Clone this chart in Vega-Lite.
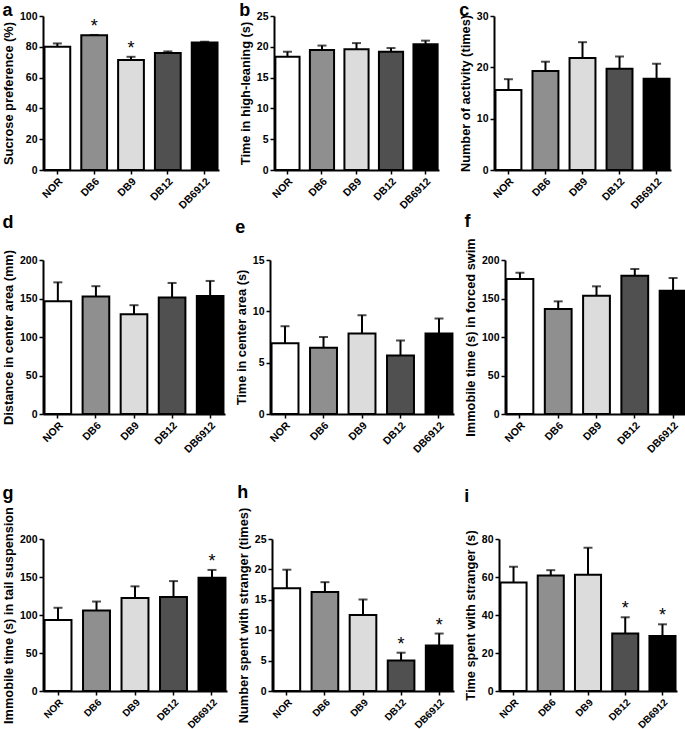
{
  "$schema": "https://vega.github.io/schema/vega-lite/v6.json",
  "padding": {"left": 2, "top": 2, "right": 2, "bottom": 0},
  "background": "white",
  "datasets": {
    "a": [
      {"group": "NOR", "mean": 80.0, "upper": 82.2, "sig": false},
      {"group": "DB6", "mean": 87.5, "upper": 87.7, "sig": true},
      {"group": "DB9", "mean": 71.4, "upper": 73.5, "sig": true},
      {"group": "DB12", "mean": 75.9, "upper": 77.0, "sig": false},
      {"group": "DB6912", "mean": 82.8, "upper": 83.3, "sig": false}
    ],
    "b": [
      {"group": "NOR", "mean": 18.4, "upper": 19.2, "sig": false},
      {"group": "DB6", "mean": 19.5, "upper": 20.2, "sig": false},
      {"group": "DB9", "mean": 19.6, "upper": 20.6, "sig": false},
      {"group": "DB12", "mean": 19.2, "upper": 19.8, "sig": false},
      {"group": "DB6912", "mean": 20.4, "upper": 21.0, "sig": false}
    ],
    "c": [
      {"group": "NOR", "mean": 15.6, "upper": 17.7, "sig": false},
      {"group": "DB6", "mean": 19.3, "upper": 21.1, "sig": false},
      {"group": "DB9", "mean": 21.8, "upper": 24.9, "sig": false},
      {"group": "DB12", "mean": 19.7, "upper": 22.1, "sig": false},
      {"group": "DB6912", "mean": 17.8, "upper": 20.7, "sig": false}
    ],
    "d": [
      {"group": "NOR", "mean": 146.4, "upper": 171.0, "sig": false},
      {"group": "DB6", "mean": 152.5, "upper": 166.0, "sig": false},
      {"group": "DB9", "mean": 129.6, "upper": 141.3, "sig": false},
      {"group": "DB12", "mean": 151.2, "upper": 170.2, "sig": false},
      {"group": "DB6912", "mean": 153.4, "upper": 172.8, "sig": false}
    ],
    "e": [
      {"group": "NOR", "mean": 6.9, "upper": 8.55, "sig": false},
      {"group": "DB6", "mean": 6.45, "upper": 7.5, "sig": false},
      {"group": "DB9", "mean": 7.85, "upper": 9.62, "sig": false},
      {"group": "DB12", "mean": 5.7, "upper": 7.16, "sig": false},
      {"group": "DB6912", "mean": 7.85, "upper": 9.3, "sig": false}
    ],
    "f": [
      {"group": "NOR", "mean": 175.3, "upper": 183.5, "sig": false},
      {"group": "DB6", "mean": 136.4, "upper": 146.3, "sig": false},
      {"group": "DB9", "mean": 153.7, "upper": 165.8, "sig": false},
      {"group": "DB12", "mean": 179.7, "upper": 188.3, "sig": false},
      {"group": "DB6912", "mean": 160.2, "upper": 176.6, "sig": false}
    ],
    "g": [
      {"group": "NOR", "mean": 93.5, "upper": 109.5, "sig": false},
      {"group": "DB6", "mean": 106.0, "upper": 117.7, "sig": false},
      {"group": "DB9", "mean": 122.5, "upper": 137.7, "sig": false},
      {"group": "DB12", "mean": 123.8, "upper": 144.6, "sig": false},
      {"group": "DB6912", "mean": 148.9, "upper": 159.3, "sig": true}
    ],
    "h": [
      {"group": "NOR", "mean": 16.9, "upper": 19.95, "sig": false},
      {"group": "DB6", "mean": 16.3, "upper": 17.9, "sig": false},
      {"group": "DB9", "mean": 12.5, "upper": 15.05, "sig": false},
      {"group": "DB12", "mean": 5.0, "upper": 6.3, "sig": true},
      {"group": "DB6912", "mean": 7.5, "upper": 9.45, "sig": true}
    ],
    "i": [
      {"group": "NOR", "mean": 57.1, "upper": 65.4, "sig": false},
      {"group": "DB6", "mean": 60.8, "upper": 63.6, "sig": false},
      {"group": "DB9", "mean": 61.2, "upper": 75.4, "sig": false},
      {"group": "DB12", "mean": 30.2, "upper": 38.8, "sig": true},
      {"group": "DB6912", "mean": 29.0, "upper": 35.1, "sig": true}
    ]
  },
  "vconcat": [
    {
      "vconcat": [
        {
          "spacing": 20,
          "hconcat": [
            {
              "width": 176, "height": 154,
              "title": {"text": "a", "offset": -9},
              "data": {"name": "a"},
              "encoding": {
                "x": {"field": "group", "type": "nominal", "sort": ["NOR", "DB6", "DB9", "DB12", "DB6912"], "scale": {"paddingInner": 0.3, "paddingOuter": 0.04}, "axis": {"title": null, "labelAngle": -45}},
                "y": {"field": "mean", "type": "quantitative", "title": "Sucrose preference (%)", "scale": {"domain": [0, 100], "nice": false}, "axis": {"values": [0, 20, 40, 60, 80, 100]}}
              },
              "layer": [
                {"mark": {"type": "rule", "color": "black", "strokeWidth": 2}, "encoding": {"y2": {"field": "upper"}}},
                {"mark": {"type": "tick", "color": "black", "thickness": 2, "size": 9}, "encoding": {"y": {"field": "upper", "type": "quantitative", "title": "Sucrose preference (%)"}}},
                {"mark": {"type": "bar", "stroke": "black", "strokeWidth": 2}, "encoding": {"fill": {"field": "group", "type": "nominal", "scale": {"domain": ["NOR", "DB6", "DB9", "DB12", "DB6912"], "range": ["#ffffff", "#8f8f8f", "#dcdcdc", "#505050", "#000000"]}, "legend": null}}},
                {"transform": [{"filter": "datum.sig"}], "mark": {"type": "text", "text": "*", "fontSize": 18, "dy": -3, "baseline": "alphabetic", "color": "black"}, "encoding": {"y": {"field": "upper", "type": "quantitative", "title": "Sucrose preference (%)"}}}
              ]
            },
            {
              "width": 165, "height": 154,
              "title": {"text": "b", "offset": -9},
              "data": {"name": "b"},
              "encoding": {
                "x": {"field": "group", "type": "nominal", "sort": ["NOR", "DB6", "DB9", "DB12", "DB6912"], "scale": {"paddingInner": 0.3, "paddingOuter": 0.04}, "axis": {"title": null, "labelAngle": -45}},
                "y": {"field": "mean", "type": "quantitative", "title": "Time in high-leaning (s)", "scale": {"domain": [0, 25], "nice": false}, "axis": {"values": [0, 5, 10, 15, 20, 25]}}
              },
              "layer": [
                {"mark": {"type": "rule", "color": "black", "strokeWidth": 2}, "encoding": {"y2": {"field": "upper"}}},
                {"mark": {"type": "tick", "color": "black", "thickness": 2, "size": 9}, "encoding": {"y": {"field": "upper", "type": "quantitative", "title": "Time in high-leaning (s)"}}},
                {"mark": {"type": "bar", "stroke": "black", "strokeWidth": 2}, "encoding": {"fill": {"field": "group", "type": "nominal", "scale": {"domain": ["NOR", "DB6", "DB9", "DB12", "DB6912"], "range": ["#ffffff", "#8f8f8f", "#dcdcdc", "#505050", "#000000"]}, "legend": null}}}
              ]
            },
            {
              "width": 177, "height": 154,
              "title": {"text": "c", "offset": -9},
              "data": {"name": "c"},
              "encoding": {
                "x": {"field": "group", "type": "nominal", "sort": ["NOR", "DB6", "DB9", "DB12", "DB6912"], "scale": {"paddingInner": 0.3, "paddingOuter": 0.04}, "axis": {"title": null, "labelAngle": -45}},
                "y": {"field": "mean", "type": "quantitative", "title": "Number of activity (times)", "scale": {"domain": [0, 30], "nice": false}, "axis": {"values": [0, 10, 20, 30]}}
              },
              "layer": [
                {"mark": {"type": "rule", "color": "black", "strokeWidth": 2}, "encoding": {"y2": {"field": "upper"}}},
                {"mark": {"type": "tick", "color": "black", "thickness": 2, "size": 9}, "encoding": {"y": {"field": "upper", "type": "quantitative", "title": "Number of activity (times)"}}},
                {"mark": {"type": "bar", "stroke": "black", "strokeWidth": 2}, "encoding": {"fill": {"field": "group", "type": "nominal", "scale": {"domain": ["NOR", "DB6", "DB9", "DB12", "DB6912"], "range": ["#ffffff", "#8f8f8f", "#dcdcdc", "#505050", "#000000"]}, "legend": null}}}
              ]
            }
          ]
        },
        {
          "spacing": 10,
          "hconcat": [
            {
              "width": 182, "height": 154,
              "title": {"text": "d", "offset": 18},
              "data": {"name": "d"},
              "encoding": {
                "x": {"field": "group", "type": "nominal", "sort": ["NOR", "DB6", "DB9", "DB12", "DB6912"], "scale": {"paddingInner": 0.3, "paddingOuter": 0.04}, "axis": {"title": null, "labelAngle": -45}},
                "y": {"field": "mean", "type": "quantitative", "title": "Distance in center area (mm)", "scale": {"domain": [0, 200], "nice": false}, "axis": {"values": [0, 50, 100, 150, 200]}}
              },
              "layer": [
                {"mark": {"type": "rule", "color": "black", "strokeWidth": 2}, "encoding": {"y2": {"field": "upper"}}},
                {"mark": {"type": "tick", "color": "black", "thickness": 2, "size": 9}, "encoding": {"y": {"field": "upper", "type": "quantitative", "title": "Distance in center area (mm)"}}},
                {"mark": {"type": "bar", "stroke": "black", "strokeWidth": 2}, "encoding": {"fill": {"field": "group", "type": "nominal", "scale": {"domain": ["NOR", "DB6", "DB9", "DB12", "DB6912"], "range": ["#ffffff", "#8f8f8f", "#dcdcdc", "#505050", "#000000"]}, "legend": null}}}
              ]
            },
            {
              "width": 184, "height": 154,
              "title": {"text": "e", "offset": 18},
              "data": {"name": "e"},
              "encoding": {
                "x": {"field": "group", "type": "nominal", "sort": ["NOR", "DB6", "DB9", "DB12", "DB6912"], "scale": {"paddingInner": 0.3, "paddingOuter": 0.04}, "axis": {"title": null, "labelAngle": -45}},
                "y": {"field": "mean", "type": "quantitative", "title": "Time in center area (s)", "scale": {"domain": [0, 15], "nice": false}, "axis": {"values": [0, 5, 10, 15]}}
              },
              "layer": [
                {"mark": {"type": "rule", "color": "black", "strokeWidth": 2}, "encoding": {"y2": {"field": "upper"}}},
                {"mark": {"type": "tick", "color": "black", "thickness": 2, "size": 9}, "encoding": {"y": {"field": "upper", "type": "quantitative", "title": "Time in center area (s)"}}},
                {"mark": {"type": "bar", "stroke": "black", "strokeWidth": 2}, "encoding": {"fill": {"field": "group", "type": "nominal", "scale": {"domain": ["NOR", "DB6", "DB9", "DB12", "DB6912"], "range": ["#ffffff", "#8f8f8f", "#dcdcdc", "#505050", "#000000"]}, "legend": null}}}
              ]
            },
            {
              "width": 183, "height": 154,
              "title": {"text": "f", "offset": 7},
              "data": {"name": "f"},
              "encoding": {
                "x": {"field": "group", "type": "nominal", "sort": ["NOR", "DB6", "DB9", "DB12", "DB6912"], "scale": {"paddingInner": 0.3, "paddingOuter": 0.04}, "axis": {"title": null, "labelAngle": -45}},
                "y": {"field": "mean", "type": "quantitative", "title": "Immobile time (s) in forced swim", "scale": {"domain": [0, 200], "nice": false}, "axis": {"values": [0, 50, 100, 150, 200]}}
              },
              "layer": [
                {"mark": {"type": "rule", "color": "black", "strokeWidth": 2}, "encoding": {"y2": {"field": "upper"}}},
                {"mark": {"type": "tick", "color": "black", "thickness": 2, "size": 9}, "encoding": {"y": {"field": "upper", "type": "quantitative", "title": "Immobile time (s) in forced swim"}}},
                {"mark": {"type": "bar", "stroke": "black", "strokeWidth": 2}, "encoding": {"fill": {"field": "group", "type": "nominal", "scale": {"domain": ["NOR", "DB6", "DB9", "DB12", "DB6912"], "range": ["#ffffff", "#8f8f8f", "#dcdcdc", "#505050", "#000000"]}, "legend": null}}}
              ]
            }
          ]
        }
      ],
      "spacing": 1
    },
    {
      "spacing": 10,
      "hconcat": [
        {
          "width": 184, "height": 152,
          "title": {"text": "g", "offset": 4},
          "data": {"name": "g"},
          "encoding": {
            "x": {"field": "group", "type": "nominal", "sort": ["NOR", "DB6", "DB9", "DB12", "DB6912"], "scale": {"paddingInner": 0.3, "paddingOuter": 0.04}, "axis": {"title": null, "labelAngle": -45, "labelFontSize": 10}},
            "y": {"field": "mean", "type": "quantitative", "title": "Immobile time (s) in tail suspension", "scale": {"domain": [0, 200], "nice": false}, "axis": {"values": [0, 50, 100, 150, 200]}}
          },
          "layer": [
            {"mark": {"type": "rule", "color": "black", "strokeWidth": 2}, "encoding": {"y2": {"field": "upper"}}},
            {"mark": {"type": "tick", "color": "black", "thickness": 2, "size": 9}, "encoding": {"y": {"field": "upper", "type": "quantitative", "title": "Immobile time (s) in tail suspension"}}},
            {"mark": {"type": "bar", "stroke": "black", "strokeWidth": 2}, "encoding": {"fill": {"field": "group", "type": "nominal", "scale": {"domain": ["NOR", "DB6", "DB9", "DB12", "DB6912"], "range": ["#ffffff", "#8f8f8f", "#dcdcdc", "#505050", "#000000"]}, "legend": null}}},
            {"transform": [{"filter": "datum.sig"}], "mark": {"type": "text", "text": "*", "fontSize": 18, "dy": -3, "baseline": "alphabetic", "color": "black"}, "encoding": {"y": {"field": "upper", "type": "quantitative", "title": "Immobile time (s) in tail suspension"}}}
          ]
        },
        {
          "width": 182, "height": 152,
          "title": {"text": "h", "offset": 5},
          "data": {"name": "h"},
          "encoding": {
            "x": {"field": "group", "type": "nominal", "sort": ["NOR", "DB6", "DB9", "DB12", "DB6912"], "scale": {"paddingInner": 0.3, "paddingOuter": 0.04}, "axis": {"title": null, "labelAngle": -45, "labelFontSize": 10}},
            "y": {"field": "mean", "type": "quantitative", "title": "Number spent with stranger (times)", "scale": {"domain": [0, 25], "nice": false}, "axis": {"values": [0, 5, 10, 15, 20, 25]}}
          },
          "layer": [
            {"mark": {"type": "rule", "color": "black", "strokeWidth": 2}, "encoding": {"y2": {"field": "upper"}}},
            {"mark": {"type": "tick", "color": "black", "thickness": 2, "size": 9}, "encoding": {"y": {"field": "upper", "type": "quantitative", "title": "Number spent with stranger (times)"}}},
            {"mark": {"type": "bar", "stroke": "black", "strokeWidth": 2}, "encoding": {"fill": {"field": "group", "type": "nominal", "scale": {"domain": ["NOR", "DB6", "DB9", "DB12", "DB6912"], "range": ["#ffffff", "#8f8f8f", "#dcdcdc", "#505050", "#000000"]}, "legend": null}}},
            {"transform": [{"filter": "datum.sig"}], "mark": {"type": "text", "text": "*", "fontSize": 18, "dy": -3, "baseline": "alphabetic", "color": "black"}, "encoding": {"y": {"field": "upper", "type": "quantitative", "title": "Number spent with stranger (times)"}}}
          ]
        },
        {
          "width": 178, "height": 152,
          "title": {"text": "i", "offset": 24},
          "data": {"name": "i"},
          "encoding": {
            "x": {"field": "group", "type": "nominal", "sort": ["NOR", "DB6", "DB9", "DB12", "DB6912"], "scale": {"paddingInner": 0.3, "paddingOuter": 0.04}, "axis": {"title": null, "labelAngle": -45, "labelFontSize": 10}},
            "y": {"field": "mean", "type": "quantitative", "title": "Time spent with stranger (s)", "scale": {"domain": [0, 80], "nice": false}, "axis": {"values": [0, 20, 40, 60, 80]}}
          },
          "layer": [
            {"mark": {"type": "rule", "color": "black", "strokeWidth": 2}, "encoding": {"y2": {"field": "upper"}}},
            {"mark": {"type": "tick", "color": "black", "thickness": 2, "size": 9}, "encoding": {"y": {"field": "upper", "type": "quantitative", "title": "Time spent with stranger (s)"}}},
            {"mark": {"type": "bar", "stroke": "black", "strokeWidth": 2}, "encoding": {"fill": {"field": "group", "type": "nominal", "scale": {"domain": ["NOR", "DB6", "DB9", "DB12", "DB6912"], "range": ["#ffffff", "#8f8f8f", "#dcdcdc", "#505050", "#000000"]}, "legend": null}}},
            {"transform": [{"filter": "datum.sig"}], "mark": {"type": "text", "text": "*", "fontSize": 18, "dy": -3, "baseline": "alphabetic", "color": "black"}, "encoding": {"y": {"field": "upper", "type": "quantitative", "title": "Time spent with stranger (s)"}}}
          ]
        }
      ]
    }
  ],
  "spacing": 29,
  "config": {
    "view": {"stroke": null},
    "font": "Arial",
    "axis": {
      "grid": false,
      "domainColor": "black", "domainWidth": 2,
      "tickColor": "black", "tickWidth": 1.5, "tickSize": 4,
      "labelColor": "black", "labelFontWeight": "bold", "labelFontSize": 10.5, "labelPadding": 2,
      "titleColor": "black", "titleFontWeight": "bold", "titleFontSize": 12.8, "titlePadding": 4
    },
    "title": {"fontSize": 18, "fontWeight": "bold", "anchor": "start", "frame": "bounds", "color": "black", "baseline": "alphabetic"}
  }
}
